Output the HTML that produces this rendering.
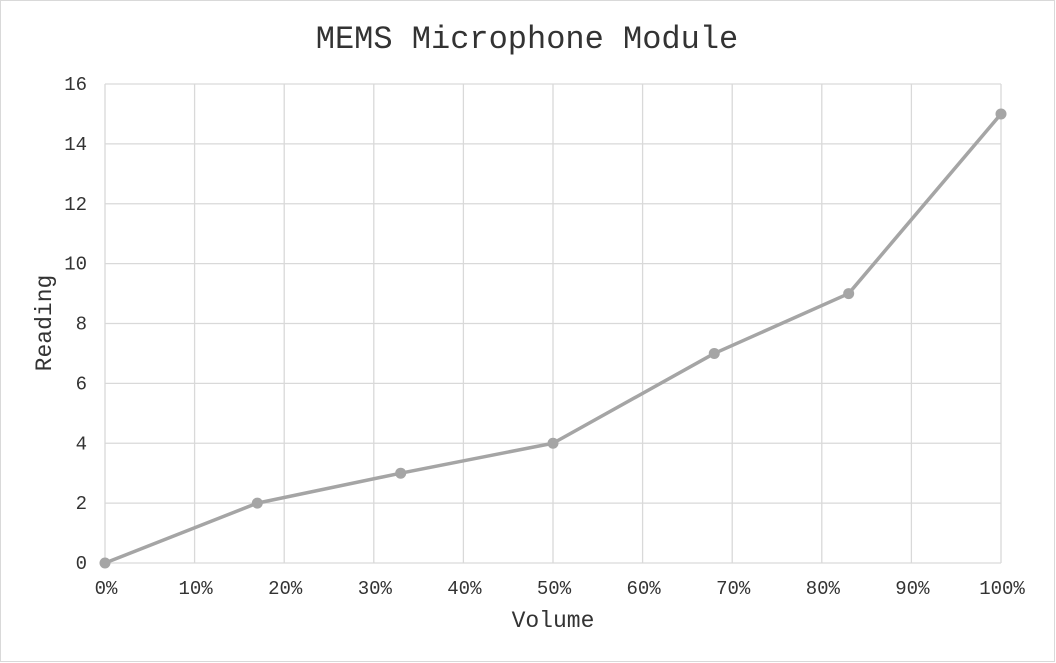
<!DOCTYPE html>
<html><head><meta charset="utf-8"><style>
html,body{margin:0;padding:0;background:#fff;}
svg{display:block;font-family:"Liberation Mono",monospace;}
</style></head><body>
<svg id="chart" width="1056" height="663" viewBox="0 0 1056 663">
<rect x="0.5" y="0.5" width="1054" height="661" fill="#fff" stroke="#d9d9d9"/>
<text x="527" y="48" text-anchor="middle" font-size="32" fill="#333">MEMS Microphone Module</text>
<g id="grid"></g>
<g id="series"></g>
<text x="553" y="627" text-anchor="middle" font-size="23" fill="#333">Volume</text>
<text transform="translate(51,323) rotate(-90)" text-anchor="middle" font-size="23" fill="#333">Reading</text>
</svg>
<script>
const xValues=[0,17,33,50,68,83,100];
const yValues=[0,2,3,4,7,9,15];
const xTicks=[0,10,20,30,40,50,60,70,80,90,100];
const yTicks=[0,2,4,6,8,10,12,14,16];
const NS="http://www.w3.org/2000/svg";
const x0=105,x1=1001,y0=563,y1=84;
function sx(v){return x0+(v/100)*(x1-x0);}
function sy(v){return y0-(v/16)*(y0-y1);}
const grid=document.getElementById('grid');
function mk(t,a,p){const e=document.createElementNS(NS,t);for(const k in a)e.setAttribute(k,a[k]);p.appendChild(e);return e;}
yTicks.forEach(v=>{
 const l=mk('line',{x1:x0,x2:x1,y1:sy(v),y2:sy(v),stroke:'#d9d9d9','stroke-width':1.3},grid);
 
 
 const t=mk('text',{x:87,y:sy(v)+6,'text-anchor':'end','font-size':19,fill:'#333'},grid);
 t.textContent=v;
 
 
});
xTicks.forEach(v=>{
 const l=mk('line',{x1:sx(v),x2:sx(v),y1:y1,y2:y0,stroke:'#d9d9d9','stroke-width':1.3},grid);
 
 
 const t=mk('text',{x:sx(v)+1,y:594,'text-anchor':'middle','font-size':19,fill:'#333'},grid);
 t.textContent=v+'%';
 
 
});
const s=document.getElementById('series');
const pts=xValues.map((x,i)=>sx(x)+','+sy(yValues[i])).join(' ');
const pl=mk('polyline',{points:pts,fill:'none',stroke:'#a5a5a5','stroke-width':3.5,'stroke-linejoin':'round'},s);


xValues.forEach((x,i)=>{
 const c=mk('circle',{cx:sx(x),cy:sy(yValues[i]),r:5.5,fill:'#a5a5a5'},s);
 
 
});
</script>
</body></html>
